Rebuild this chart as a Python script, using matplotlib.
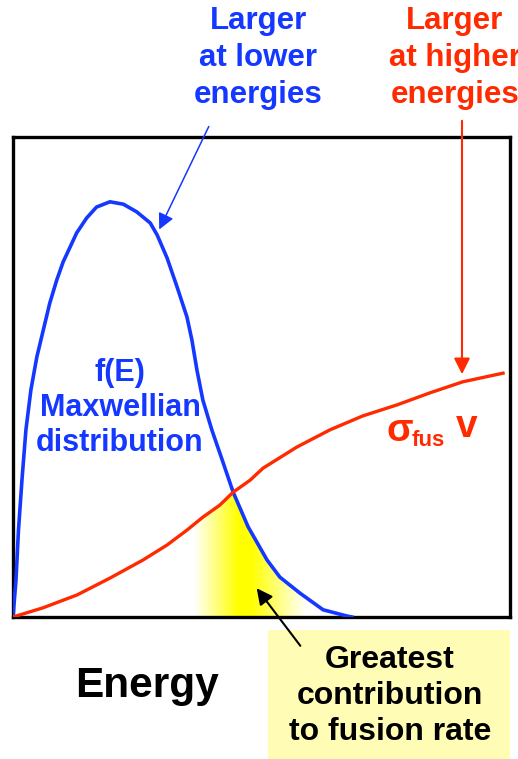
import numpy as np
import matplotlib
matplotlib.use("Agg")
import matplotlib.pyplot as plt
from matplotlib.patches import Polygon, Rectangle

plt.rcParams['font.family'] = ['Liberation Sans', 'DejaVu Sans']

# Maxwellian f(E) (energy 0-100, height 0-100)
maxw_E = [0, 0.6, 1.1, 1.8, 2.6, 3.6, 4.8, 6.1, 7.4, 8.8, 10.1, 11.5, 12.8, 14.8,
          16.8, 19.5, 22.2, 24.9, 27.6, 29.0, 31.0, 33.0, 35.0, 36.0, 37.0, 38.2,
          40.0, 42.1, 44.3, 47.3, 51.1, 53.7, 57.7, 62.4, 67.2, 68.2]
maxw_f = [0, 7.7, 18.1, 28.5, 39.0, 47.3, 54.2, 59.8, 65.4, 70.2, 74.0, 77.1, 80.0, 83.1,
          85.4, 86.5, 86.0, 84.4, 82.1, 79.6, 74.8, 68.8, 62.5, 57.7, 51.5, 45.2,
          39.0, 32.7, 26.0, 18.8, 11.9, 8.3, 5.0, 1.5, 0.2, 0]

# fusion cross section * velocity
sv_E = [0, 6.0, 12.9, 19.5, 26.2, 31.0, 35.0, 38.2, 41.6, 44.3, 47.7, 50.3, 57.1,
        63.8, 70.4, 77.3, 83.9, 90.5, 98.6]
sv = [0, 1.9, 4.6, 8.1, 11.9, 15.0, 18.1, 20.8, 23.3, 26.0, 28.5, 31.0, 35.4,
      39.0, 41.9, 44.2, 46.7, 49.0, 50.8]
E_cross = 44.3

blue = '#1438ff'
red = '#ff2a00'

W, H = 518, 759
fig = plt.figure(figsize=(W / 100, H / 100), dpi=100)
L, R, T, B = 13, 510, 137, 617
ax = fig.add_axes([L / W, (H - B) / H, (R - L) / W, (B - T) / H])
ax.set_xlim(0, 100)
ax.set_ylim(0, 100)
ax.set_xticks([])
ax.set_yticks([])
for s in ax.spines.values():
    s.set_linewidth(2.4)
    s.set_color('black')


def px(x, y):
    # picture pixel -> data coords
    return (x - L) / (R - L) * 100, (B - y) / (B - T) * 100


# yellow glow under min(sigma v, f)
ic = sv_E.index(E_cross)
jc = maxw_E.index(E_cross)
poly_x = list(sv_E[:ic + 1]) + list(maxw_E[jc + 1:])
poly_y = list(sv[:ic + 1]) + list(maxw_f[jc + 1:])
clip = Polygon(np.column_stack([poly_x, poly_y]), closed=True, transform=ax.transData,
               facecolor='none', edgecolor='none')
ax.add_patch(clip)
gx = np.linspace(0, 100, 600)
gpx = L + gx / 100 * (R - L)
t = np.interp(gpx, [194, 238, 252, 306], [0, 1, 1, 0])
img = np.ones((2, gx.size, 3))
img[:, :, 2] = 1 - t
im = ax.imshow(img, extent=[0, 100, 0, 100], aspect='auto', origin='lower', zorder=1)
im.set_clip_path(clip)

ax.plot(maxw_E, maxw_f, color=blue, lw=2.6, zorder=3)
ax.plot(sv_E, sv, color=red, lw=2.4, zorder=3)

# labels
ax.text(*px(258, 58), 'Larger\nat lower\nenergies', color=blue, fontsize=22.5,
        fontweight='bold', ha='center', va='center', linespacing=1.32, clip_on=False)
ax.text(*px(455, 58), 'Larger\nat higher\nenergies', color=red, fontsize=22.5,
        fontweight='bold', ha='center', va='center', linespacing=1.32, clip_on=False)
ax.text(*px(120, 408), 'f(E)\nMaxwellian\ndistribution', color=blue, fontsize=22,
        fontweight='bold', ha='center', va='center', linespacing=1.22, zorder=4)
ax.text(*px(387, 441), 'σ', color=red, fontsize=28, fontweight='bold',
        ha='left', va='baseline', zorder=4)
ax.text(*px(412, 446), 'fus', color=red, fontsize=16, fontweight='bold',
        ha='left', va='baseline', zorder=4)
ax.text(*px(456, 437), 'v', color=red, fontsize=28, fontweight='bold',
        ha='left', va='baseline', zorder=4)
ax.text(*px(147, 686), 'Energy', color='black', fontsize=30.5, fontweight='bold',
        ha='center', va='center', clip_on=False)

# yellow note box
x0, y0 = px(268, 759)
x1, y1 = px(510, 630)
ax.add_patch(Rectangle((x0, y0), x1 - x0, y1 - y0, facecolor='#fffcb6', edgecolor='none',
                       clip_on=False, zorder=0))
ax.text(*px(390, 696), 'Greatest\ncontribution\nto fusion rate', color='black', fontsize=23,
        fontweight='bold', ha='center', va='center', linespacing=1.28, clip_on=False)

# arrows
ax.annotate('', xy=px(158, 232), xytext=px(210, 124), annotation_clip=False,
            arrowprops=dict(arrowstyle='-|>', color=blue, lw=1.1, mutation_scale=24))
ax.annotate('', xy=px(462, 377), xytext=px(462, 118), annotation_clip=False,
            arrowprops=dict(arrowstyle='-|>', color=red, lw=1.5, mutation_scale=24))
ax.annotate('', xy=px(255, 586), xytext=px(302, 648), annotation_clip=False,
            arrowprops=dict(arrowstyle='-|>', color='black', lw=1.5, mutation_scale=24))

fig.savefig('out.png', dpi=100)
